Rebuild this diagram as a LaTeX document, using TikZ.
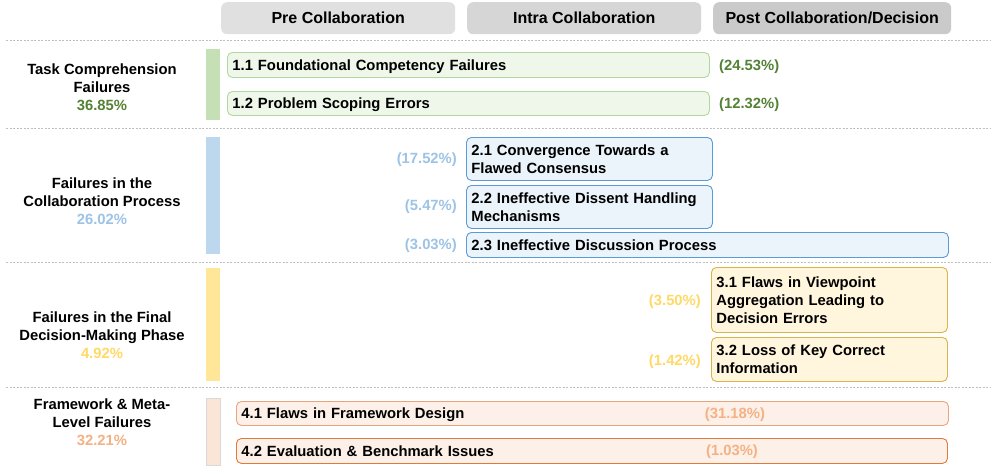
\documentclass[tikz,border=0pt]{standalone}
\usepackage{fontspec}
\setmainfont{Liberation Sans}
\definecolor{hdrA}{HTML}{E0E0E0}
\definecolor{hdrB}{HTML}{D6D6D6}
\definecolor{hdrC}{HTML}{CACACA}
\definecolor{sepgray}{HTML}{BFBFBF}
\definecolor{gBar}{HTML}{C5E0B4}
\definecolor{gFill}{HTML}{EFF7EB}
\definecolor{gLine}{HTML}{B3D89F}
\definecolor{gText}{HTML}{548235}
\definecolor{bBar}{HTML}{BDD7EE}
\definecolor{bFill}{HTML}{EBF3FB}
\definecolor{bLine}{HTML}{5B9BD5}
\definecolor{bText}{HTML}{9DC3E6}
\definecolor{yBar}{HTML}{FFE699}
\definecolor{yFill}{HTML}{FFF6DD}
\definecolor{yLine}{HTML}{D9B44A}
\definecolor{yText}{HTML}{FFD966}
\definecolor{oBar}{HTML}{FBE5D6}
\definecolor{oFill}{HTML}{FDF0E8}
\definecolor{oLineA}{HTML}{E9A47F}
\definecolor{oLineB}{HTML}{E07B39}
\definecolor{oText}{HTML}{F4B183}
\newcommand{\bodyfnt}{\fontsize{14.8}{17.8}\selectfont\bfseries}
\begin{document}
\begin{tikzpicture}[x=1pt,y=-1pt,
  hdr/.style={rounded corners=6pt, anchor=north west, inner sep=0pt, minimum height=32pt,
    font=\fontsize{16}{19}\selectfont\bfseries},
  catbox/.style={rounded corners=5pt, line width=0.9pt, anchor=north west, inner xsep=5pt,
    inner ysep=0pt, align=left, font=\bodyfnt},
  oneline/.style={text height=11.5pt, text depth=1pt},
  seclabel/.style={align=center, font=\bodyfnt, inner sep=0pt},
  pct/.style={font=\bodyfnt, inner sep=0pt, text height=11.5pt, text depth=1pt},
  sepline/.style={draw=sepgray, line width=0.6pt, dash pattern=on 2pt off 1.5pt},
  bar/.style={anchor=north west, inner sep=0pt, minimum width=14pt}
]
\useasboundingbox (0,0) rectangle (996,469);
\fill[white] (0,0) rectangle (996,469);

% headers
\node[hdr, fill=hdrA, minimum width=234pt] (hpre) at (221,2) {Pre Collaboration};
\node[hdr, fill=hdrB, minimum width=234pt] (hintra) at (467,2) {Intra Collaboration};
\node[hdr, fill=hdrC, minimum width=238pt] (hpost) at (713,2) {Post Collaboration/Decision};

% separators
\coordinate (s1a) at (6,40);   \coordinate (s1b) at (990,40);
\coordinate (s2a) at (6,128);  \coordinate (s2b) at (990,128);
\coordinate (s3a) at (6,262);  \coordinate (s3b) at (990,262);
\coordinate (s4a) at (6,387);  \coordinate (s4b) at (990,387);
\draw[sepline] (s1a) -- (s1b);
\draw[sepline] (s2a) -- (s2b);
\draw[sepline] (s3a) -- (s3b);
\draw[sepline] (s4a) -- (s4b);

% section 1
\node[seclabel] (l1) at (102,87) {Task Comprehension\\Failures\\\textcolor{gText}{36.85\%}};
\node[bar, fill=gBar, minimum height=71pt] (bar1) at (206,49) {};
\node[catbox, oneline, fill=gFill, draw=gLine, text width=472pt, minimum height=25pt] (c11) at (227,52) {1.1 Foundational Competency Failures};
\node[catbox, oneline, fill=gFill, draw=gLine, text width=472pt, minimum height=24pt] (c12) at (227,91) {1.2 Problem Scoping Errors};
\node[pct, text=gText, anchor=west] (p11) at (719,65) {(24.53\%)};
\node[pct, text=gText, anchor=west] (p12) at (719,103) {(12.32\%)};

% section 2
\node[seclabel] (l2) at (102,201) {Failures in the\\Collaboration Process\\\textcolor{bText}{26.02\%}};
\node[bar, fill=bBar, minimum height=117pt] (bar2) at (206,137) {};
\node[catbox, fill=bFill, draw=bLine, text width=236pt, minimum height=43pt] (c21) at (466,137) {2.1 Convergence Towards a\\Flawed Consensus};
\node[catbox, fill=bFill, draw=bLine, text width=236pt, minimum height=43pt] (c22) at (466,185) {2.2 Ineffective Dissent Handling\\Mechanisms};
\node[catbox, oneline, fill=bFill, draw=bLine, text width=472pt, minimum height=25pt] (c23) at (466,232) {2.3 Ineffective Discussion Process};
\node[pct, text=bText, anchor=east] (p21) at (457,158) {(17.52\%)};
\node[pct, text=bText, anchor=east] (p22) at (457,205) {(5.47\%)};
\node[pct, text=bText, anchor=east] (p23) at (457,244) {(3.03\%)};

% section 3
\node[seclabel] (l3) at (102,335) {Failures in the Final\\Decision-Making Phase\\\textcolor{yText}{4.92\%}};
\node[bar, fill=yBar, minimum height=113pt] (bar3) at (206,268) {};
\node[catbox, fill=yFill, draw=yLine, text width=226pt, minimum height=65pt] (c31) at (711,267) {3.1 Flaws in Viewpoint\\Aggregation Leading to\\Decision Errors};
\node[catbox, fill=yFill, draw=yLine, text width=226pt, minimum height=44pt] (c32) at (711,337) {3.2 Loss of Key Correct\\Information};
\node[pct, text=yText, anchor=east] (p31) at (701,300) {(3.50\%)};
\node[pct, text=yText, anchor=east] (p32) at (701,360) {(1.42\%)};

% section 4
\node[seclabel] (l4) at (102,422) {Framework \& Meta-\\Level Failures\\\textcolor{oText}{32.21\%}};
\node[bar, fill=oBar, draw=black!15, line width=0.6pt, minimum height=67pt] (bar4) at (206,398) {};
\node[catbox, oneline, fill=oFill, draw=oLineA, text width=702pt, minimum height=24pt] (c41) at (236,401) {4.1 Flaws in Framework Design};
\node[catbox, oneline, fill=oFill, draw=oLineB, text width=701pt, minimum height=25pt] (c42) at (236,438) {4.2 Evaluation \& Benchmark Issues};
\node[pct, text=oText] (p41) at (735,413) {(31.18\%)};
\node[pct, text=oText] (p42) at (732,450) {(1.03\%)};
\end{tikzpicture}
\end{document}
